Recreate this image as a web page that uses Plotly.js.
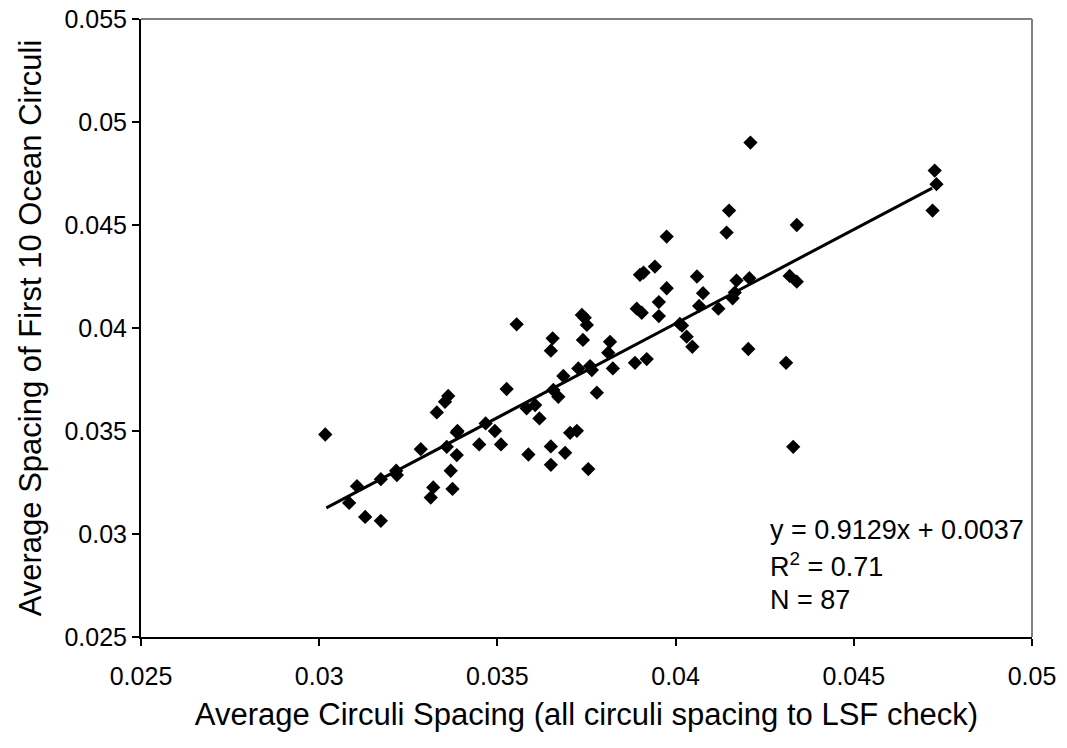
<!DOCTYPE html>
<html>
<head>
<meta charset="utf-8">
<script src="https://cdn.plot.ly/plotly-3.0.1.min.js"></script>
<style>html,body{margin:0;padding:0;background:#fff;}#chart{width:1067px;height:748px;}</style>
</head>
<body>
<div id="chart"></div>
<script>
// Average circuli spacing (x) vs average spacing of first 10 ocean circuli (y)
const avgSpacing = [
  0.03017,0.03084,0.03106,0.03129,0.03173,0.03173,0.03216,0.03218,0.03285,0.03320,
  0.03313,0.03330,0.03353,0.03362,0.03358,0.03386,0.03386,0.03369,0.03374,0.03449,
  0.03467,0.03493,0.03510,0.03526,0.03587,0.03582,0.03606,0.03618,0.03650,0.03650,
  0.03737,0.03751,0.03655,0.03650,0.03740,0.03816,0.03811,0.03891,0.03905,0.03953,
  0.03953,0.04012,0.04031,0.04047,0.04120,0.04160,0.04204,0.04310,0.04066,0.03685,
  0.03657,0.03671,0.03727,0.03760,0.03765,0.03779,0.03824,0.03886,0.03919,0.03704,
  0.03723,0.03690,0.03755,0.04330,0.04210,0.04727,0.04732,0.04721,0.04150,0.04143,
  0.04340,0.04171,0.04207,0.04166,0.04077,0.04060,0.04320,0.04340,0.03975,0.03942,
  0.03900,0.03910,0.03975,0.03554,0.04018,0.03745,0.03388
];
const first10Spacing = [
  0.03483,0.03151,0.03232,0.03083,0.03064,0.03266,0.03307,0.03286,0.03412,0.03226,
  0.03177,0.03590,0.03642,0.03670,0.03423,0.03493,0.03383,0.03307,0.03219,0.03435,
  0.03537,0.03500,0.03435,0.03704,0.03386,0.03610,0.03626,0.03561,0.03425,0.03336,
  0.04063,0.04015,0.03950,0.03890,0.03942,0.03933,0.03880,0.04094,0.04074,0.04126,
  0.04058,0.04020,0.03958,0.03909,0.04094,0.04144,0.03898,0.03831,0.04107,0.03767,
  0.03699,0.03666,0.03804,0.03815,0.03796,0.03686,0.03804,0.03831,0.03849,0.03491,
  0.03501,0.03394,0.03315,0.03423,0.04900,0.04764,0.04698,0.04570,0.04570,0.04463,
  0.04500,0.04230,0.04242,0.04172,0.04169,0.04250,0.04253,0.04225,0.04444,0.04298,
  0.04258,0.04269,0.04193,0.04018,0.04012,0.04050,0.03500
];
const fitSlope = 0.9129;
const fitIntercept = 0.0037;
const fitRange = [0.0302, 0.0472];
const xTicks = [0.025,0.03,0.035,0.04,0.045,0.05];
const xTickLabels = ['0.025','0.03','0.035','0.04','0.045','0.05'];
const yTicks = [0.025,0.03,0.035,0.04,0.045,0.05,0.055];
const yTickLabels = ['0.025','0.03','0.035','0.04','0.045','0.05','0.055'];
const statLines = ['y = 0.9129x + 0.0037','R<sup>2</sup> = 0.71','N = 87'];

const fitY = fitRange.map(x => fitSlope * x + fitIntercept);
const font = 'Liberation Sans, Arial, sans-serif';

const traces = [
  {x: avgSpacing, y: first10Spacing, type: 'scatter', mode: 'markers',
   marker: {symbol: 'diamond', size: 11, color: '#000'}, hoverinfo: 'x+y'},
  {x: fitRange, y: fitY, type: 'scatter', mode: 'lines',
   line: {color: '#000', width: 3}, hoverinfo: 'skip'}
];

const annY = [0.1731, 0.1165, 0.0599];
const annotations = statLines.map((t, i) => ({
  text: t, xref: 'paper', yref: 'paper', x: 0.7037, y: annY[i],
  xanchor: 'left', yanchor: 'middle', showarrow: false,
  font: {family: font, size: 27, color: '#000'}
}));

const layout = {
  width: 1067, height: 748,
  margin: {l: 141, r: 35, t: 19, b: 111},
  paper_bgcolor: '#fff', plot_bgcolor: '#fff',
  showlegend: false,
  font: {family: font, color: '#000', size: 25},
  xaxis: {
    range: [0.025, 0.05], tickmode: 'array', tickvals: xTicks, ticktext: xTickLabels,
    showgrid: false, zeroline: false, showline: true, linecolor: '#000', linewidth: 2,
    ticks: 'outside', ticklen: 7, tickwidth: 2, tickcolor: '#000',
    tickfont: {family: font, size: 25, color: '#000'}, ticklabelstandoff: 9,
    title: {text: 'Average Circuli Spacing (all circuli spacing to LSF check)',
            font: {family: font, size: 31, color: '#000'}, standoff: 14}
  },
  yaxis: {
    range: [0.025, 0.055], tickmode: 'array', tickvals: yTicks, ticktext: yTickLabels,
    showgrid: false, zeroline: false, showline: true, linecolor: '#000', linewidth: 2,
    ticks: 'outside', ticklen: 7, tickwidth: 2, tickcolor: '#000',
    tickfont: {family: font, size: 25, color: '#000'},
    title: {text: 'Average Spacing of First 10 Ocean Circuli',
            font: {family: font, size: 31, color: '#000'}, standoff: 14}
  },
  shapes: [
    {type: 'line', xref: 'paper', yref: 'paper', x0: 0, x1: 1, y0: 1, y1: 1,
     line: {color: '#808080', width: 2}},
    {type: 'line', xref: 'paper', yref: 'paper', x0: 1, x1: 1, y0: 0, y1: 1,
     line: {color: '#808080', width: 2}}
  ],
  annotations: annotations
};

Plotly.newPlot('chart', traces, layout, {displayModeBar: false, staticPlot: true});
</script>
</body>
</html>
